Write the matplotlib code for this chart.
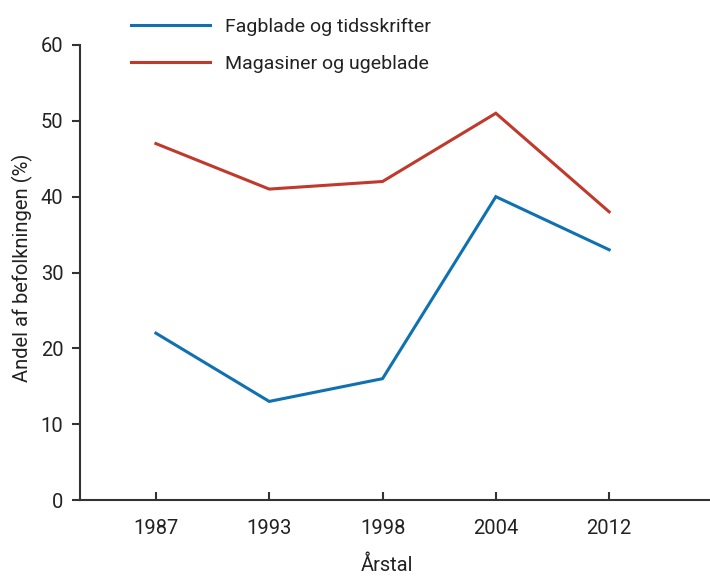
import matplotlib
matplotlib.use("Agg")
import matplotlib.pyplot as plt

years = ["1987", "1993", "1998", "2004", "2012"]
fagblade = [22, 13, 16, 40, 33]
magasiner = [47, 41, 42, 51, 38]
series_labels = ["Fagblade og tidsskrifter", "Magasiner og ugeblade"]
y_ticks = [0, 10, 20, 30, 40, 50, 60]

plt.rcParams["font.family"] = ["Roboto", "DejaVu Sans"]

text_color = "#222222"
axis_color = "#333333"
blue = "#0f71b0"
red = "#c0392b"

fig = plt.figure(figsize=(7.10, 5.76), dpi=100)
ax = fig.add_axes([80 / 710, 76 / 576, 630 / 710, 455 / 576])

x = list(range(len(years)))
l1, = ax.plot(x, fagblade, color=blue, lw=2.2, solid_joinstyle="miter")
l2, = ax.plot(x, magasiner, color=red, lw=2.2, solid_joinstyle="miter")

ax.set_ylim(0, 60)
ax.set_xlim(-0.67, 4.89)
ax.set_yticks(y_ticks)
ax.set_xticks(x)
ax.set_xticklabels(years)

for s in ["top", "right"]:
    ax.spines[s].set_visible(False)
for s in ["left", "bottom"]:
    ax.spines[s].set_color(axis_color)
    ax.spines[s].set_linewidth(1.5)

ax.tick_params(axis="y", direction="out", length=6, width=1.5, color=axis_color,
               labelsize=14.5, labelcolor=text_color, pad=6)
ax.tick_params(axis="x", direction="in", length=6, width=1.5, color=axis_color,
               labelsize=14.5, labelcolor=text_color, pad=14)

ax.set_ylabel("Andel af befolkningen (%)", fontsize=14.5, color=text_color)
ax.yaxis.set_label_coords(-0.075, 0.51)
ax.set_xlabel("Årstal", fontsize=14.5, color=text_color)
ax.xaxis.set_label_coords(0.487, -0.122)

leg = fig.legend([l1, l2], series_labels, loc="upper left",
                 bbox_to_anchor=(113 / 710, 1.0), frameon=False,
                 fontsize=14, handlelength=4.1, handletextpad=0.75,
                 labelspacing=1.0, labelcolor=text_color)

fig.savefig("out.png", dpi=100)
